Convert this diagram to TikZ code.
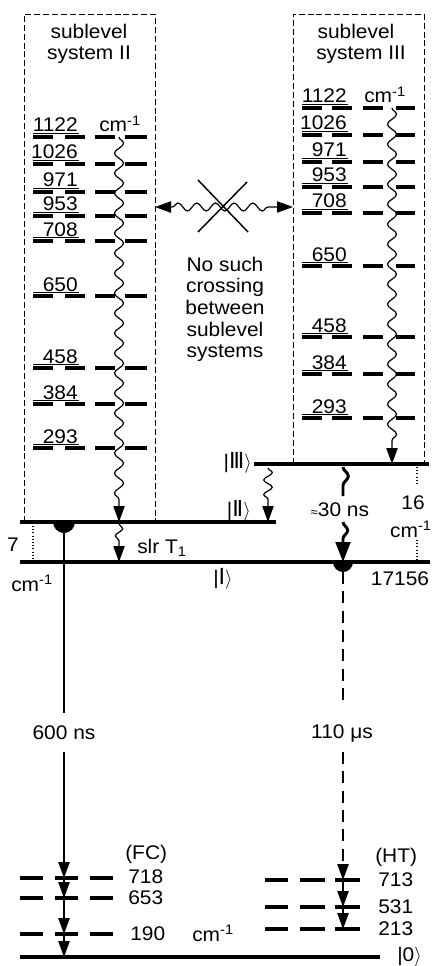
\documentclass[tikz,border=0pt]{standalone}
\usepackage{fontspec}
\setmainfont[FakeStretch=1.06]{Liberation Sans}
\newfontfamily\dvs[Scale=1.12]{DejaVu Sans}
\usetikzlibrary{arrows.meta,decorations.pathmorphing}
\newcommand\ketlab[1]{|#1$\rangle$}
\newcommand\wn{cm\textsuperscript{-1}}
\begin{document}
\begin{tikzpicture}[x=0.75pt,y=-0.75pt,
  every node/.style={font=\fontsize{14.8}{16.3}\selectfont, inner sep=0pt},
  lev/.style={line width=3pt},
  statel/.style={line width=3pt},
  boxl/.style={line width=0.7pt, dash pattern=on 4.5pt off 2.2pt},
  uline/.style={line width=0.6pt},
  thinl/.style={line width=1.1pt},
  dotl/.style={line width=0.8pt, dash pattern=on 0.8pt off 1.6pt},
  dashv/.style={line width=1.1pt, dash pattern=on 9pt off 5.5pt},
  tip/.style={-{Triangle[length=12pt,width=8.5pt]}},
  wavy/.style={decorate, decoration={snake, amplitude=3.4pt, segment length=15pt, post length=13pt}, line width=0.9pt},
  bold wavy/.style={decorate, decoration={snake, amplitude=4pt, segment length=22pt}, line width=2.2pt}
]
\useasboundingbox (0,0) rectangle (433,966);

% named points
\coordinate (IIa) at (20,522);   \coordinate (IIb) at (276,522);
\coordinate (Ia) at (20,562);    \coordinate (Ib) at (430,562);
\coordinate (IIIa) at (254,464); \coordinate (IIIb) at (429,464);
\coordinate (Za) at (20,957);    \coordinate (Zb) at (380,957);

% dashed boxes
\draw[boxl] (24,522) -- (24,14) -- (155,14) -- (155,522);
\draw[boxl] (293,464) -- (293,14) -- (424,14) -- (424,464);
\node[anchor=base] (t1a) at (89,39) {sublevel};
\node[anchor=base] (t1b) at (89,60) {system II};
\node[anchor=base] (t2a) at (356,39) {sublevel};
\node[anchor=base] (t2b) at (361,60) {system III};

% left sublevels
\foreach \y/\t in {137/1122,164/1026,192/971,216/953,241/708,296/650,368/458,404/384,448/293}{
  \draw[lev] (33,\y) -- (53,\y) (65,\y) -- (85,\y) (95,\y) -- (115,\y) (125,\y) -- (147,\y);
  \draw[uline] (33,\y-3.3) -- (79,\y-3.3);
  \node[anchor=base east] (L\t) at (78,\y-5) {\t};
}
\node[anchor=base west] (cmL) at (99,132) {\wn};

% right sublevels
\foreach \y/\t in {108/1122,135/1026,162/971,187/953,213/708,266/650,337/458,374/384,418/293}{
  \draw[lev] (302,\y) -- (322,\y) (332,\y) -- (352,\y) (363,\y) -- (383,\y) (396,\y) -- (415,\y);
  \draw[uline] (302,\y-3.3) -- (348,\y-3.3);
  \node[anchor=base east] (R\t) at (347,\y-5) {\t};
}
\node[anchor=base west] (cmR) at (364,103) {\wn};

% states
\draw[statel] (IIa) -- (IIb);
\draw[statel] (Ia) -- (Ib);
\draw[statel] (IIIa) -- (IIIb);
\draw[statel] (Za) -- (Zb);
\node[anchor=east] (kIII) at (252,463) {\ketlab{{\dvs Ⅲ}}};
\node[anchor=east] (kII) at (251,511) {\ketlab{{\dvs Ⅱ}}};
\node (kI) at (223,579) {\ketlab{{\dvs Ⅰ}}};
\node[anchor=base west] (k0) at (397,961) {\ketlab{0}};

% wavy relaxations within systems
\coordinate (wL1) at (119,137); \coordinate (wL2) at (119,522);
\draw[wavy,tip] (wL1) -- (wL2);
\coordinate (wR1) at (392,108); \coordinate (wR2) at (392,464);
\draw[wavy,tip] (wR1) -- (wR2);

% III -> II
\coordinate (w32a) at (268,468); \coordinate (w32b) at (268,522);
\draw[tip, decorate, decoration={snake, amplitude=3.2pt, segment length=11pt, post length=12pt}, line width=0.9pt] (w32a) -- (w32b);

% slr T1 : II -> I
\coordinate (s1) at (119,524); \coordinate (s2) at (119,562);
\draw[tip, decorate, decoration={snake, amplitude=2.8pt, segment length=11pt, post length=12pt}, line width=0.9pt] (s1) -- (s2);
\node[anchor=west] (slr) at (137,548) {slr T\textsubscript{1}};

% III -> I (~30 ns)
\coordinate (b1) at (343,467); \coordinate (b2) at (343,496);
\draw[bold wavy] (b1) -- (b2);
\coordinate (b3) at (343,522); \coordinate (b4) at (343,562);
\draw[-{Triangle[length=15pt,width=11pt]}, decorate, decoration={snake, amplitude=3.5pt, segment length=20pt, post length=15pt}, line width=2.2pt] (b3) -- (b4);
\node (t30) at (340,510) {{\fontsize{9}{10}\selectfont ≈}30 ns};

% crossing arrow
\coordinate (xa) at (155,207); \coordinate (xb) at (293,207);
\draw[{Triangle[length=12pt,width=8.5pt]}-{Triangle[length=12pt,width=8.5pt]}, decorate, decoration={snake, amplitude=3pt, segment length=14pt, pre length=13pt, post length=13pt}, line width=0.9pt] (xa) -- (xb);
\draw[thinl] (198,180) -- (248,232);
\draw[thinl] (247,182) -- (198,232);
\node[anchor=base] (ns1) at (225,271) {No such};
\node[anchor=base] (ns2) at (225,292.7) {crossing};
\node[anchor=base] (ns3) at (225,314.3) {between};
\node[anchor=base] (ns4) at (225,336) {sublevel};
\node[anchor=base] (ns5) at (225,357.7) {systems};

% splittings
\draw[dotl] (33,526) -- (33,560);
\node (n7) at (13,545) {7};
\node[anchor=west] (cmI) at (11,583) {\wn};
\draw[dotl] (417,467) -- (417,484);
\draw[dotl] (417,540) -- (417,560);
\node (n16) at (413,503) {16};
\node (cm16) at (411,529) {\wn};
\node (n17) at (400,579) {17156};

% hemispheres
\fill (53,522) arc[start angle=180, end angle=0, radius=11] -- cycle;
\fill (333,562) arc[start angle=180, end angle=0, radius=10] -- cycle;

% emission FC (600 ns)
\coordinate (e1) at (64,522); \coordinate (e2) at (64,713);
\draw[thinl] (e1) -- (e2);
\node (t600) at (64,733) {600 ns};
\coordinate (e3) at (64,752);
\coordinate (f718) at (64,878); \coordinate (f653) at (64,898); \coordinate (f190) at (64,934); \coordinate (f0) at (64,957);
\draw[thinl,tip] (e3) -- (f718);
\draw[thinl,tip] (f718) -- (f653);
\draw[thinl,tip] (f653) -- (f190);
\draw[thinl,tip] (f190) -- (f0);
\foreach \y in {878,898,934}{
  \draw[lev] (20,\y) -- (43,\y) (55,\y) -- (78,\y) (90,\y) -- (113,\y);
}
\node[anchor=west] (FC) at (125,854) {(FC)};
\node[anchor=west] (v718) at (128,877) {718};
\node[anchor=west] (v653) at (128,898) {653};
\node[anchor=west] (v190) at (130,934) {190};
\node[anchor=west] (cmF) at (192,933) {\wn};

% emission HT (110 us)
\coordinate (h1) at (343,572); \coordinate (h2) at (343,707);
\draw[dashv] (h1) -- (h2);
\node (t110) at (342,733) {110 μs};
\coordinate (h3) at (343,752);
\coordinate (g713) at (343,880); \coordinate (g531) at (343,907); \coordinate (g213) at (343,929);
\draw[dashv,tip] (h3) -- (g713);
\draw[thinl,tip] (g713) -- (g531);
\draw[thinl,tip] (g531) -- (g213);
\foreach \y in {880,907,929}{
  \draw[lev] (265,\y) -- (288,\y) (300,\y) -- (325,\y) (335,\y) -- (360,\y);
}
\node[anchor=west] (HT) at (375,857) {(HT)};
\node[anchor=west] (v713) at (378,880) {713};
\node[anchor=west] (v531) at (378,907) {531};
\node[anchor=west] (v213) at (378,929) {213};
\end{tikzpicture}
\end{document}
